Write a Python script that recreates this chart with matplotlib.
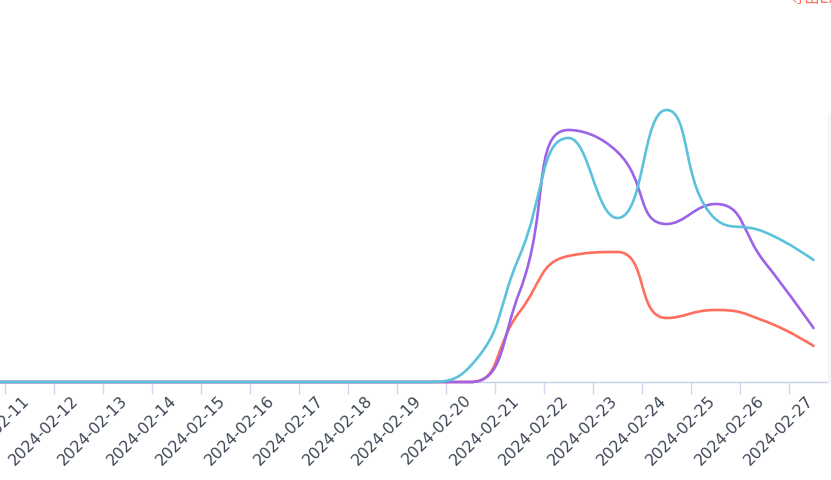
import numpy as np
import matplotlib
matplotlib.use("Agg")
import matplotlib.pyplot as plt
import matplotlib.transforms as mtransforms
from matplotlib.path import Path
from matplotlib.patches import PathPatch, Rectangle

# categories (2024-02-10 sits just outside the visible area on the left)
dates = ["2024-02-%02d" % d for d in range(10, 28)]

# series values (arbitrary units)
cyan_vals = [0, 0, 0, 0, 0, 0, 0, 0, 0, 0, 16, 126, 244, 164, 272, 163, 150, 122]
purple_vals = [0, 0, 0, 0, 0, 0, 0, 0, 0, 0, 0, 90, 252, 230, 158, 178, 120, 54]
red_vals = [0, 0, 0, 0, 0, 0, 0, 0, 0, 0, 0, 70, 126, 130, 64, 72, 61, 36]

W, H = 831, 481
fig = plt.figure(figsize=(W / 100, H / 100), dpi=100)
base = 383  # pixel row of the x axis
ax = fig.add_axes([0, (H - base) / H, 1, base / H])
band = 49.0
first_center = 29.5 - band  # pixel x of the first category
ax.set_xlim((0 - first_center) / band, (W - first_center) / band)
ax.set_ylim(0, base)


def clamp(v, a, b):
    return min(max(v, min(a, b)), max(a, b))


def smooth_path(xs, ys, smooth=0.5):
    # bezier smoothing the way echarts does it (no overshoot past neighbours)
    pts = ax.transData.transform(np.column_stack([xs, ys]))
    verts = [tuple(pts[0])]
    codes = [Path.MOVETO]
    cp0 = tuple(pts[0])
    n = len(pts)
    for i in range(1, n):
        x, y = pts[i]
        px, py = pts[i - 1]
        if i == n - 1:
            cp1 = (x, y)
            ncp = (x, y)
        else:
            nx_, ny_ = pts[i + 1]
            vx, vy = nx_ - px, ny_ - py
            l0 = np.hypot(x - px, y - py)
            l1 = np.hypot(nx_ - x, ny_ - y)
            r = l1 / (l0 + l1)
            ncx = clamp(x + vx * smooth * r, x, nx_)
            ncy = clamp(y + vy * smooth * r, y, ny_)
            vx, vy = ncx - x, ncy - y
            c1x = clamp(x - vx * l0 / l1, px, x)
            c1y = clamp(y - vy * l0 / l1, py, y)
            cp1 = (c1x, c1y)
            vx, vy = x - c1x, y - c1y
            ncp = (x + vx * l1 / l0, y + vy * l1 / l0)
        verts += [cp0, cp1, (x, y)]
        codes += [Path.CURVE4] * 3
        cp0 = ncp
    verts = ax.transData.inverted().transform(np.array(verts))
    return Path(verts, codes)


xs = np.arange(len(dates))
for vals, col in [(red_vals, "#ff6f5e"), (purple_vals, "#9c63e8"), (cyan_vals, "#5cc2dc")]:
    p = smooth_path(xs, vals)
    ax.add_patch(PathPatch(p, fill=False, edgecolor=col, lw=1.9,
                           capstyle="round", joinstyle="round", zorder=3, clip_on=False))

for s in ["top", "right", "left"]:
    ax.spines[s].set_visible(False)
ax.spines["bottom"].set_color("#c6cfea")
ax.spines["bottom"].set_linewidth(1.0)
ax.set_yticks([])
ax.set_facecolor("none")

# ticks on the band edges, labels drawn at the band centres
ax.set_xticks(xs[:-1] + 0.5)
ax.set_xticklabels([])
ax.tick_params(axis="x", length=8.6, width=1.0, color="#d2d9ef")

shift = mtransforms.ScaledTranslation(-2 / 100, -15 / 100, fig.dpi_scale_trans)
lab_tr = ax.get_xaxis_transform() + shift
for x, d in zip(xs, dates):
    ax.text(x, 0, d, transform=lab_tr, rotation=45, ha="right", va="center",
            rotation_mode="anchor", color="#3d4656", fontsize=11.3, clip_on=False)

# faint shadow at the right edge
fig.patches.append(Rectangle((828 / W, (H - base) / H), 3 / W, (base - 115) / H,
                             transform=fig.transFigure, color="#f6f6f8", zorder=0))

# export button, mostly cut off at the top
fig.text(789 / W, 1 - 3.5 / H, "导出Excel", color="#ff6f5e", fontsize=11,
         family=["Noto Sans CJK SC", "DejaVu Sans"], ha="left", va="baseline")

fig.savefig("out.png", dpi=100)
